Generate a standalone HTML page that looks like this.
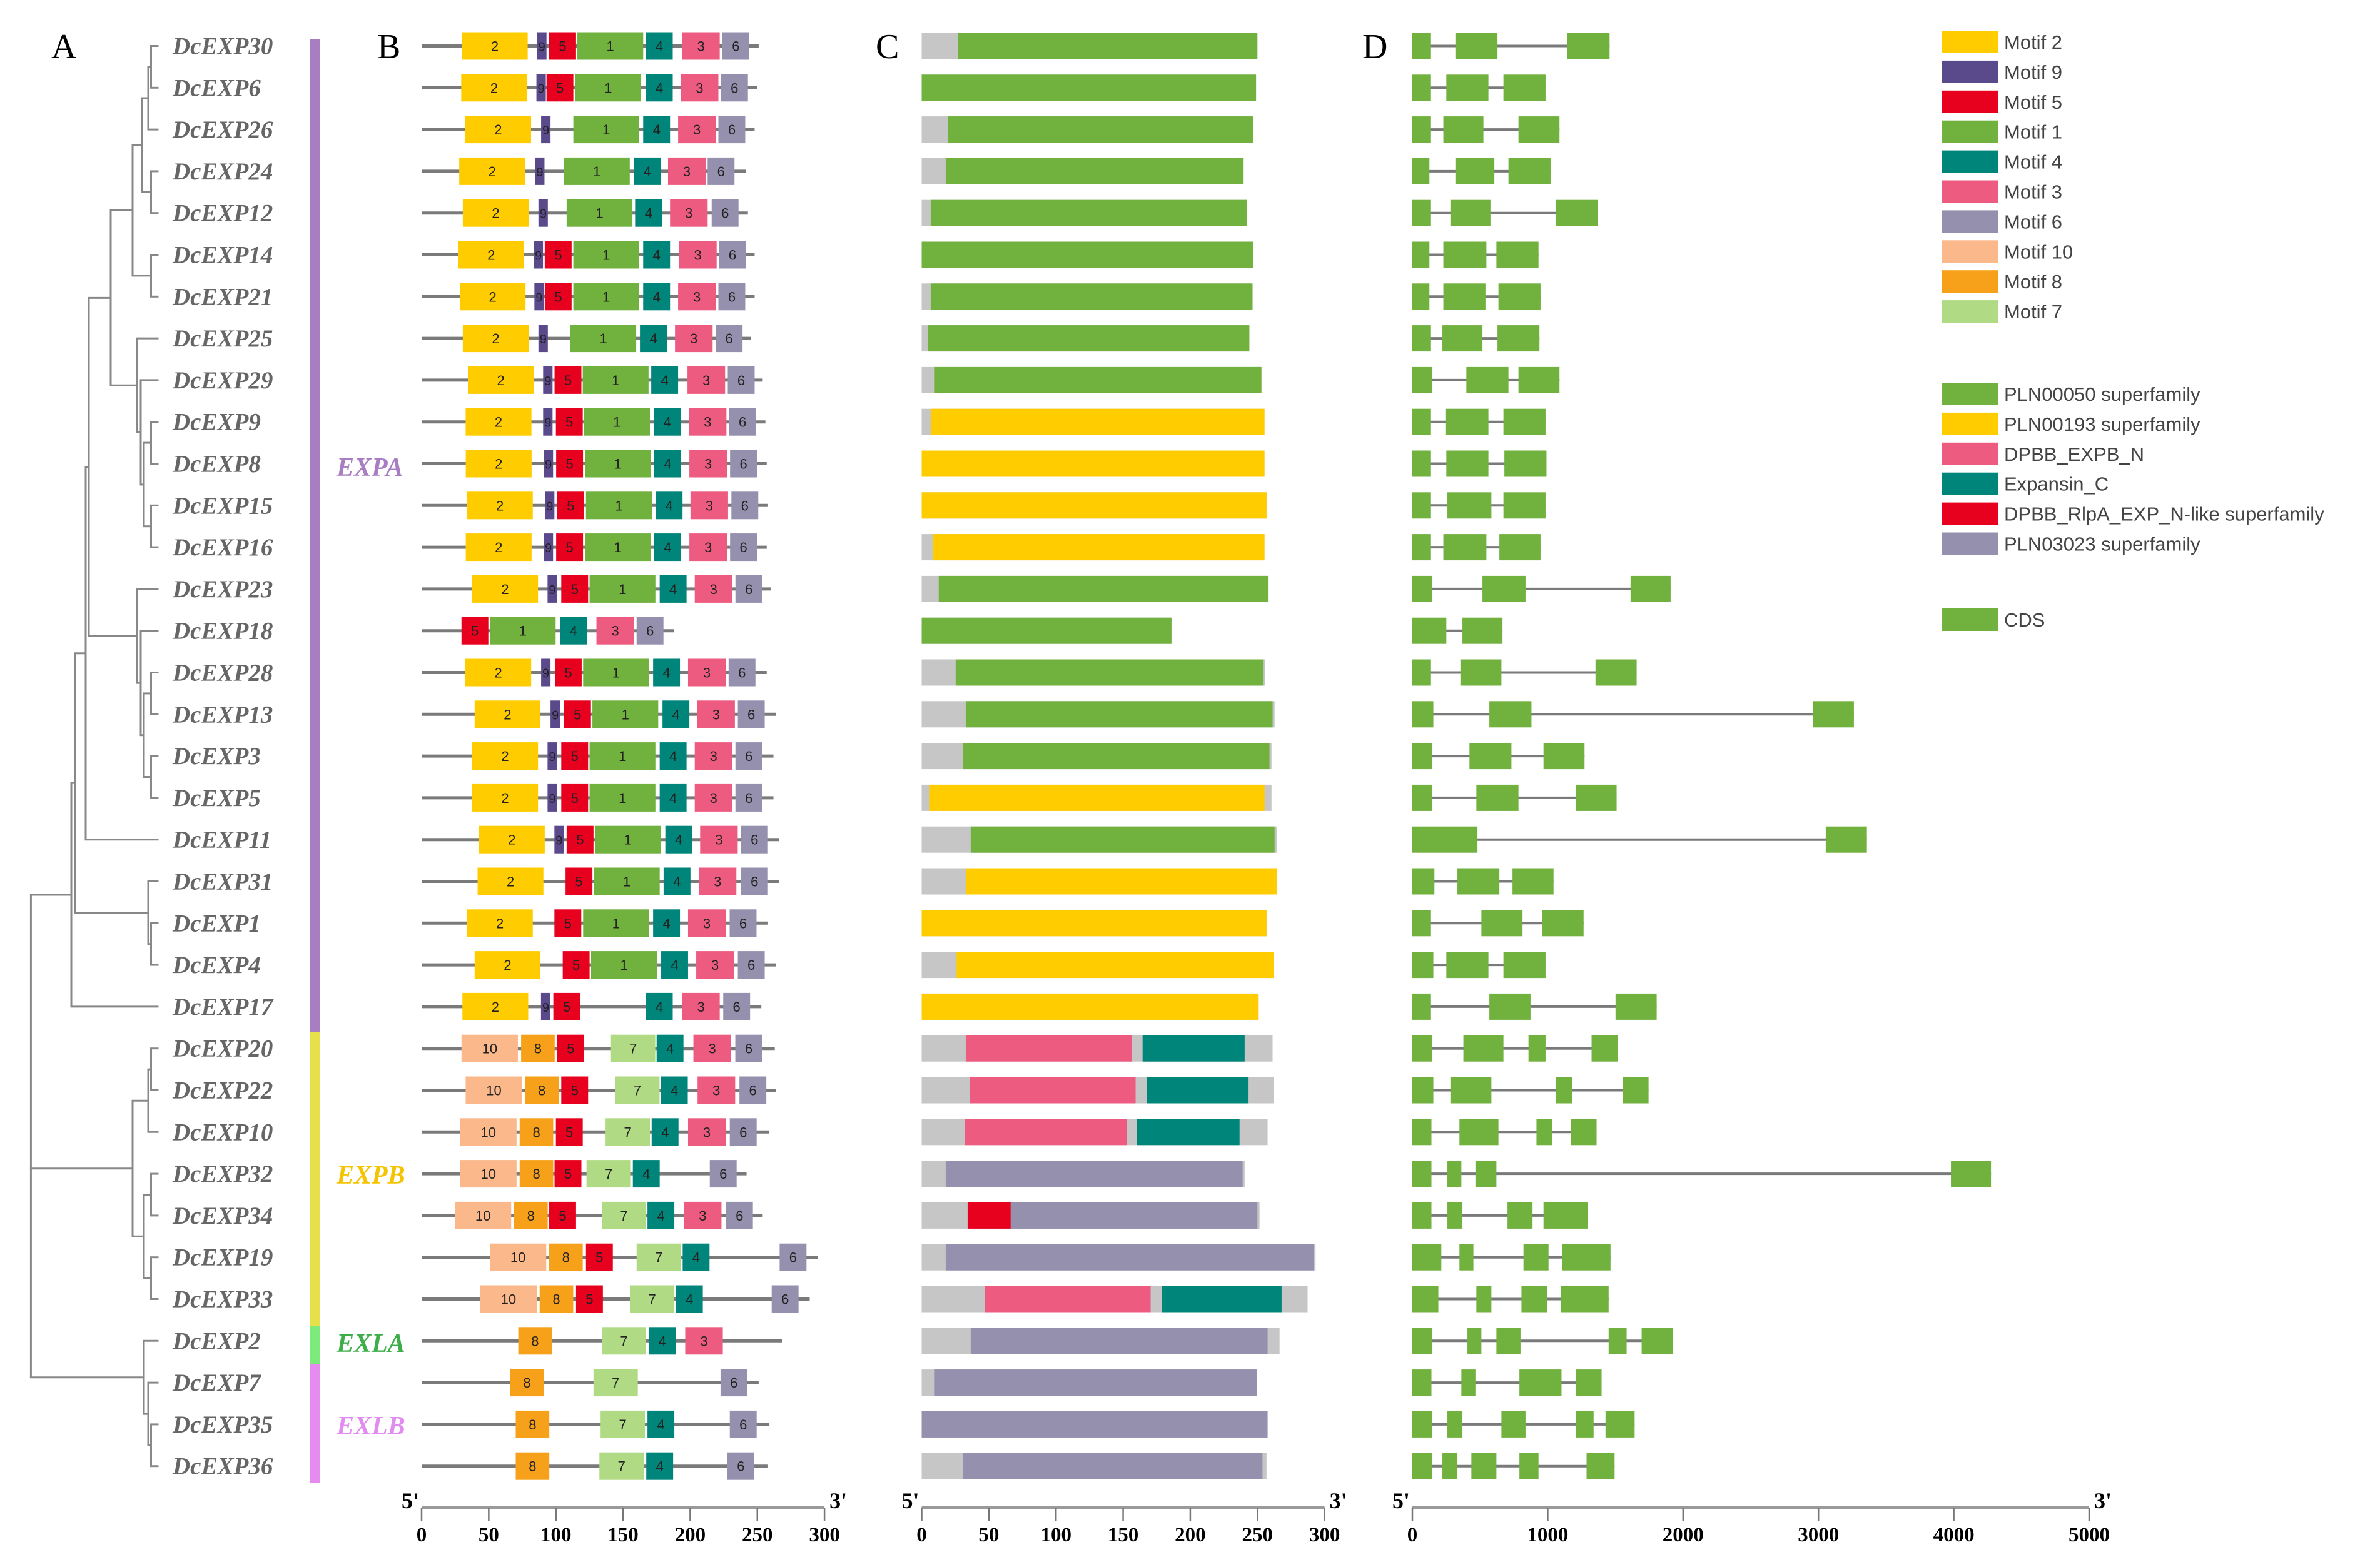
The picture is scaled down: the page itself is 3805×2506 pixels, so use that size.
<!DOCTYPE html>
<html><head><meta charset="utf-8"><title>DcEXP gene structure</title>
<style>
html,body{margin:0;padding:0;background:#fff;}
svg{display:block;}
</style></head>
<body>
<svg id="fig" xmlns="http://www.w3.org/2000/svg" width="3805" height="2506" viewBox="0 0 3805 2506">
  <rect x="0" y="0" width="3805" height="2506" fill="#fff"/>
  <g id="tree"></g>
  <g id="labels"></g>
  <g id="groups"></g>
  <g id="panelB"></g>
  <g id="panelC"></g>
  <g id="panelD"></g>
  <g id="axes"></g>
  <g id="legend"></g>
  <text x="82" y="93" font-family="Liberation Serif, serif" font-size="56" fill="#000">A</text>
  <text x="603" y="93" font-family="Liberation Serif, serif" font-size="56" fill="#000">B</text>
  <text x="1400" y="93" font-family="Liberation Serif, serif" font-size="56" fill="#000">C</text>
  <text x="2178" y="93" font-family="Liberation Serif, serif" font-size="56" fill="#000">D</text>
</svg>
<script>
const genes = ["DcEXP30","DcEXP6","DcEXP26","DcEXP24","DcEXP12","DcEXP14","DcEXP21","DcEXP25","DcEXP29","DcEXP9","DcEXP8","DcEXP15","DcEXP16","DcEXP23","DcEXP18","DcEXP28","DcEXP13","DcEXP3","DcEXP5","DcEXP11","DcEXP31","DcEXP1","DcEXP4","DcEXP17","DcEXP20","DcEXP22","DcEXP10","DcEXP32","DcEXP34","DcEXP19","DcEXP33","DcEXP2","DcEXP7","DcEXP35","DcEXP36"];
const proteinLen = [251,250,248,241.5,243,248,248,245,254,256,257,258,257,260,188,257,264,262,262,266,266,258,264,253,263,264,259,242,254,295,289,268.5,251,259,258];
const motifs = [
 [[2,30],[9,86],[5,95],[1,116],[4,167],[3,194],[6,224]],
 [[2,29.5],[9,85.5],[5,93],[1,114.5],[4,167],[3,193],[6,223]],
 [[2,32.5],[9,89],[1,113],[4,165],[3,191],[6,221]],
 [[2,28],[9,84.5],[1,106],[4,158],[3,183.5],[6,213]],
 [[2,30.7],[9,87],[1,108],[4,159],[3,185],[6,216]],
 [[2,27.4],[9,83.4],[5,91.7],[1,113],[4,165],[3,191.7],[6,221.5]],
 [[2,28.4],[9,84],[5,91.7],[1,113],[4,165],[3,191],[6,221]],
 [[2,30.7],[9,87],[1,110.8],[4,162.6],[3,188.7],[6,219]],
 [[2,34.5],[9,90.5],[5,99],[1,120],[4,171],[3,198],[6,228]],
 [[2,32.8],[9,90.5],[5,100],[1,121],[4,173],[3,199],[6,229]],
 [[2,32.9],[9,90.9],[5,100.2],[1,121.6],[4,173.2],[3,199.4],[6,229.7]],
 [[2,33.8],[9,91.9],[5,101],[1,122.4],[4,174.3],[3,200.2],[6,230.7]],
 [[2,32.9],[9,90.9],[5,100.2],[1,121.6],[4,173.2],[3,199.4],[6,229.7]],
 [[2,37.7],[9,93.8],[5,104],[1,125.1],[4,177.3],[3,203.4],[6,233.7]],
 [[5,29.7],[1,50.8],[4,103.2],[3,130.2],[6,160.1]],
 [[2,32.6],[9,89],[5,99.2],[1,120.3],[4,172.4],[3,198.4],[6,228.6]],
 [[2,39.5],[9,96],[5,106.1],[1,127.2],[4,179.4],[3,205.3],[6,235.5]],
 [[2,37.7],[9,93.8],[5,104],[1,125.1],[4,177.3],[3,203.4],[6,233.7]],
 [[2,37.7],[9,93.8],[5,104],[1,125.1],[4,177.3],[3,203.4],[6,233.7]],
 [[2,42.7],[9,98.9],[5,108],[1,129.1],[4,181.5],[3,207.4],[6,237.9]],
 [[2,41.7],[5,107.2],[1,128.3],[4,180.2],[3,206.4],[6,237.9]],
 [[2,33.8],[5,98.9],[1,120.3],[4,172.4],[3,198.4],[6,229.4]],
 [[2,39.5],[5,105.1],[1,126.2],[4,178.4],[3,204.5],[6,235.5]],
 [[2,30.4],[9,88.9],[5,98.1],[4,167],[3,194],[6,224.6]],
 [[10,29.7],[8,74.1],[5,101],[7,141],[4,175],[3,202.4],[6,233.6]],
 [[10,32.8],[8,77],[5,104],[7,144.2],[4,178.2],[3,205.5],[6,236.7]],
 [[10,28.7],[8,73],[5,100],[7,137],[4,171.3],[3,198.4],[6,229.5]],
 [[10,28.7],[8,73],[5,99],[7,122.8],[4,157.3],[6,214.6]],
 [[10,24.7],[8,68.9],[5,95],[7,134.2],[4,168.2],[3,195.3],[6,226.7]],
 [[10,50.8],[8,95],[5,122.4],[7,160.1],[4,194.4],[6,266.6]],
 [[10,43.7],[8,87.9],[5,115],[7,155.2],[4,189.4],[6,260.7]],
 [[8,72],[7,134.2],[4,169.2],[3,196.3]],
 [[8,66],[7,128],[6,222.6]],
 [[8,70.1],[7,133.3],[4,168.2],[6,229.5]],
 [[8,70.1],[7,132.4],[4,167.3],[6,227.7]]
];
const motifWidth = {2:49,9:7,5:20,1:49,4:20,3:28,6:20,10:42,8:25,7:33};
const domainLen = [250,249,247,239.7,242,247,246.4,244,253,255.3,255.3,256.8,255.3,258.3,186,255.8,262.8,260.5,260.5,264.3,264.3,256.8,262,250.9,261.3,262,257.6,240.5,251.6,293.3,287.4,266.5,249.4,257.6,256.8];
const domains = [
 [["G",26.8,250]],[["G",0,249]],[["G",19.4,247]],[["G",17.9,239.7]],[["G",6.7,242]],
 [["G",0,247]],[["G",6.7,246.4]],[["G",4.5,244]],[["G",9.7,253]],[["Y",6.7,255.3]],
 [["Y",0,255.3]],[["Y",0,256.8]],[["Y",8.2,255.3]],[["G",12.7,258.3]],[["G",0,186]],
 [["G",25.3,254.6]],[["G",32.8,261.3]],[["G",30.5,259]],[["Y",6,255.3]],[["G",36.5,262.8]],
 [["Y",32.8,264.3]],[["Y",0,256.8]],[["Y",26,262]],[["Y",0,250.9]],
 [["P",32.8,156.3],["T",164.5,240.5]],[["P",35.7,159.3],["T",167.5,243.4]],[["P",32,152.6],["T",160,236.7]],
 [["V",17.9,239]],[["R",34.2,66.3],["V",66.3,250]],[["V",17.9,291.8]],
 [["P",46.9,170.5],["T",178.7,268]],[["V",36.5,257.6]],[["V",9.7,249.4]],[["V",0,257.6]],[["V",30.5,253.8]]
];
const exons = [
 [[0,133],[318,629],[1146,1457]],[[0,133],[251,562],[673,984]],[[0,133],[229,525],[784,1087]],
 [[0,126],[318,606],[710,1021]],[[0,133],[281,577],[1058,1368]],[[0,126],[229,547],[621,932]],
 [[0,126],[229,540],[636,947]],[[0,133],[222,518],[629,939]],[[0,148],[399,710],[784,1087]],
 [[0,133],[244,562],[673,984]],[[0,133],[251,562],[680,991]],[[0,133],[259,584],[673,984]],
 [[0,133],[229,547],[643,947]],[[0,148],[518,836],[1612,1908]],[[0,251],[370,666]],
 [[0,133],[355,658],[1353,1657]],[[0,155],[569,880],[2958,3262]],[[0,148],[422,732],[969,1272]],
 [[0,148],[473,784],[1206,1509]],[[0,481],[3054,3358]],[[0,163],[333,643],[740,1043]],
 [[0,133],[510,814],[961,1265]],[[0,155],[251,562],[673,984]],[[0,133],[569,873],[1501,1805]],
 [[0,148],[377,673],[858,984],[1324,1516]],[[0,155],[281,584],[1058,1183],[1553,1745]],
 [[0,141],[348,636],[917,1035],[1169,1361]],[[0,141],[259,362],[466,621],[3979,4275]],
 [[0,141],[259,370],[703,888],[969,1294]],[[0,214],[348,451],[821,1006],[1109,1464]],
 [[0,192],[473,584],[806,998],[1095,1450]],[[0,148],[407,510],[621,799],[1450,1583],[1694,1923]],
 [[0,141],[362,466],[791,1102],[1206,1398]],[[0,148],[259,370],[658,836],[1206,1339],[1427,1642]],
 [[0,148],[222,333],[436,621],[791,932],[1287,1494]]
];
const aaTicks = [0,50,100,150,200,250,300];
const aaTickLabels = ["0","50","100","150","200","250","300"];
const bpTicks = [0,1000,2000,3000,4000,5000];
const bpTickLabels = ["0","1000","2000","3000","4000","5000"];
const motifLegend = [2,9,5,1,4,3,6,10,8,7];
const domainLegendKeys = ["G","Y","P","T","R","V"];
const domainLegendNames = ["PLN00050 superfamily","PLN00193 superfamily","DPBB_EXPB_N","Expansin_C","DPBB_RlpA_EXP_N-like superfamily","PLN03023 superfamily"];

const motifColor = {2:"#FFCC00",9:"#5B4A8B",5:"#E8001F",1:"#71B13E",4:"#00857A",3:"#EE5B80",6:"#9490AE",10:"#FBB88B",8:"#F7A11A",7:"#B0DA84"};
const domColor = {G:"#71B13E",Y:"#FFCC00",P:"#EE5B80",T:"#00857A",R:"#E8001F",V:"#9490AE"};
const NS="http://www.w3.org/2000/svg";
function mk(tag, attrs, parent){const e=document.createElementNS(NS,tag);for(const k in attrs)e.setAttribute(k,attrs[k]);parent.appendChild(e);return e;}
const rowY = i => 73.5 + i*66.8;
const xB = v => 674 + v*2.147;
const xC = v => 1473.5 + v*2.147;
const xD = v => 2258 + v*0.2164;

// tree
const T = (x,c)=>({x,c});
const tree = T(49.4,[
  T(114,[T(120,[T(137,[T(142,[T(177,[T(212,[T(227,[T(237,[T(241.5,[0,1]),2]),T(241.5,[3,4])]),T(241.5,[5,6])]),
      T(219,[7,T(225,[8,T(230,[T(241.5,[9,10]),T(241.5,[11,12])])])])]),
    T(219,[13,T(225,[14,T(230,[T(241.5,[15,16]),T(241.5,[17,18])])])])]),19]),
    T(237,[20,T(241.5,[21,22])])]),23]),
  T(212,[T(237,[T(241.5,[24,25]),26]),T(230,[T(241.5,[27,28]),T(241.5,[29,30])])]),
  T(230,[31,T(237,[32,T(241.5,[33,34])])])
]);
const gT=document.getElementById('tree');
function drawNode(n){
  if(typeof n==='number') return {y:rowY(n), x:253.5};
  const ch=n.c.map(drawNode);
  const ys=ch.map(c=>c.y);
  const y=(ys[0]+ys[ys.length-1])/2;
  const v=mk('line',{x1:n.x,x2:n.x,y1:ys[0],y2:ys[ys.length-1],stroke:'#888','stroke-width':3},gT);
  
  
  ch.forEach(c=>{
    const h=mk('line',{x1:n.x-1.5,x2:c.x,y1:c.y,y2:c.y,stroke:'#888','stroke-width':3},gT);
    
    
  });
  return {y, x:n.x};
}
drawNode(tree);

const gL=document.getElementById('labels');
genes.forEach((g,i)=>{
  const t=mk('text',{x:276,y:rowY(i)+13,'font-family':'Liberation Serif, serif','font-size':39,'font-weight':'bold','font-style':'italic',fill:'#666'},gL);
  t.textContent=g;
  
  
});

// subfamily bars
const gG=document.getElementById('groups');
const groupSegs=[["expa",62,1650,"#A87DC2","EXPA",761,"#A87DC2"],["expb",1650,2121,"#E8E04A","EXPB",1893,"#F5C400"],["exla",2121,2181,"#7DEB7B","EXLA",2162,"#3DAE4A"],["exlb",2181,2372,"#E68CF0","EXLB",2294,"#E08CF0"]];
groupSegs.forEach(s=>{
  const r=mk('rect',{x:495,y:s[1],width:16,height:s[2]-s[1],fill:s[3]},gG);
  
  
  const t=mk('text',{x:538,y:s[5],'font-family':'Liberation Serif, serif','font-size':42,'font-weight':'bold','font-style':'italic',fill:s[6]},gG);
  t.textContent=s[4];
  
  
});

// panel B
const gB=document.getElementById('panelB');
motifs.forEach((row,i)=>{
  const y=rowY(i);
  const ln=mk('line',{x1:xB(0),x2:xB(proteinLen[i]),y1:y,y2:y,stroke:'#7a7a7a','stroke-width':5},gB);
  
  
  row.forEach(m=>{
    const id=m[0], x0=xB(m[1]), w=motifWidth[id]*2.147;
    const r=mk('rect',{x:x0,y:y-22,width:w,height:44,fill:motifColor[id]},gB);
    
    
    const t=mk('text',{x:x0+w/2,y:y+8,'text-anchor':'middle','font-family':'Liberation Sans, sans-serif','font-size':id===9?20:22,fill:'#222'},gB);
    t.textContent=String(id);
    
    
  });
});

// panel C
const gC=document.getElementById('panelC');
domains.forEach((row,i)=>{
  const y=rowY(i);
  const bg=mk('rect',{x:xC(0),y:y-21,width:domainLen[i]*2.147,height:42,fill:'#C6C6C6'},gC);
  
  
  row.forEach(d=>{
    const r=mk('rect',{x:xC(d[1]),y:y-21,width:(d[2]-d[1])*2.147,height:42,fill:domColor[d[0]]},gC);
    
    
  });
});

// panel D
const gD=document.getElementById('panelD');
exons.forEach((row,i)=>{
  const y=rowY(i);
  const last=row[row.length-1][1];
  const ln=mk('line',{x1:xD(0),x2:xD(last),y1:y,y2:y,stroke:'#7a7a7a','stroke-width':4},gD);
  
  
  row.forEach(e=>{
    const r=mk('rect',{x:xD(e[0]),y:y-21,width:(e[1]-e[0])*0.2164,height:42,fill:'#71B13E'},gD);
    
    
  });
});

// axes
const gA=document.getElementById('axes');
function axis(name, sx, ticks, labels, maxv){
  const ay=2411;
  const l=mk('line',{x1:sx(0),x2:sx(maxv),y1:ay,y2:ay,stroke:'#9a9a9a','stroke-width':5},gA);
  
  
  ticks.forEach((v,k)=>{
    const t=mk('line',{x1:sx(v),x2:sx(v),y1:ay,y2:2432,stroke:'#777','stroke-width':2.5},gA);
    
    
    const tx=mk('text',{x:sx(v),y:2465,'text-anchor':'middle','font-family':'Liberation Serif, serif','font-size':33,'font-weight':'bold',fill:'#000'},gA);
    tx.textContent=labels[k];
    
    
  });
  const a=mk('text',{x:sx(0)-4,y:2412,'text-anchor':'end','font-family':'Liberation Serif, serif','font-size':36,'font-weight':'bold',fill:'#000'},gA);
  a.textContent="5'";
  
  
  const b=mk('text',{x:sx(maxv)+8,y:2412,'font-family':'Liberation Serif, serif','font-size':36,'font-weight':'bold',fill:'#000'},gA);
  b.textContent="3'";
  
  
}
axis('motif',xB,aaTicks,aaTickLabels,300);
axis('domain',xC,aaTicks,aaTickLabels,300);
axis('structure',xD,bpTicks,bpTickLabels,5000);

// legend
const gLe=document.getElementById('legend');
function legendItem(y,color,label,key){
  const r=mk('rect',{x:3105,y:y-18,width:90,height:36,fill:color},gLe);
  
  
  const t=mk('text',{x:3204,y:y+11,'font-family':'Liberation Sans, sans-serif','font-size':31,fill:'#444'},gLe);
  t.textContent=label;
  
  
}
motifLegend.forEach((m,k)=>legendItem(67+k*47.9,motifColor[m],'Motif '+m,'motif-'+m));
domainLegendKeys.forEach((d,k)=>legendItem(630+k*47.9,domColor[d],domainLegendNames[k],'domain-'+d.toLowerCase()));
legendItem(991,'#71B13E','CDS','cds');
</script>
</body></html>
